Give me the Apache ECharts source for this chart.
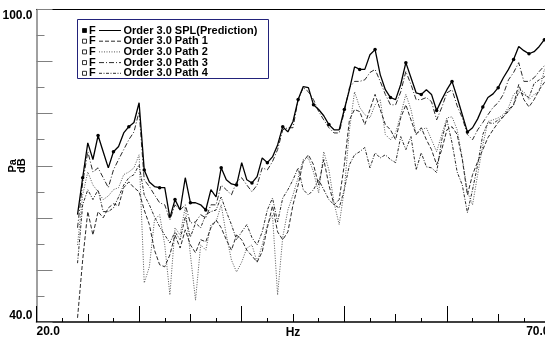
<!DOCTYPE html>
<html><head><meta charset="utf-8">
<script src="https://cdn.jsdelivr.net/npm/echarts@6/dist/echarts.min.js"></script>
<style>html,body{margin:0;padding:0;background:#fff}#c{width:545px;height:337px}</style>
</head><body><div id="c"></div>
<script>
// Frequency (Hz)
const freqHz = [24,24.5,25,25.5,26,26.5,27,27.5,28,28.5,
29,29.5,30,30.5,31,31.5,32,32.5,33,33.5,
34,34.5,35,35.5,36,36.5,37,37.5,38,38.5,
39,39.5,40,40.5,41,41.5,42,42.5,43,43.5,
44,44.5,45,45.5,46,46.5,47,47.5,48,48.5,
49,49.5,50,50.5,51,51.5,52,52.5,53,53.5,
54,54.5,55,55.5,56,56.5,57,57.5,58,58.5,
59,59.5,60,60.5,61,61.5,62,62.5,63,63.5,
64,64.5,65,65.5,66,66.5,67,67.5,68,68.5,
69,69.5,70];

// Order 3.0 SPL (Prediction), dB
const splDb = [60.6,67.7,74.4,71.2,75.8,72.7,69.6,72.7,73.7,76.3,
77.5,78.3,82.1,69.2,66.9,66.0,65.8,65.8,60.0,63.5,
61.5,67.7,62.9,62.9,62.5,61.5,65.4,64.0,69.6,67.3,
66.5,66.3,70.6,67.3,66.7,67.9,71.5,70.6,71.7,74.0,
77.5,76.5,78.5,82.7,85.2,85.0,81.7,80.8,79.6,77.9,
76.9,76.9,80.8,84.6,89.0,88.5,88.5,91.3,92.3,87.5,
84.6,83.1,82.7,85.6,89.8,86.9,84.0,83.7,84.6,83.7,
80.6,82.7,84.6,86.2,83.1,79.8,76.5,77.3,79.0,81.3,
83.1,83.8,85.0,86.9,88.5,90.4,92.9,92.1,91.5,91.9,
92.9,94.2,94.6];

// Order 3.0 Path 1, dB
const path1Db = [40.8,51.9,61.2,56.7,61.2,60.0,61.9,62.7,62.3,65.8,
66.9,65.8,65.0,61.5,58.7,53.8,51.0,50.6,52.9,56.7,
54.2,57.7,54.8,53.3,55.8,55.4,58.1,59.6,58.1,55.8,
53.8,56.7,55.8,53.8,52.7,51.5,53.5,58.1,62.3,57.3,
55.8,57.3,62.5,66.3,70.8,72.1,70.2,66.3,71.2,66.3,
62.5,63.5,70.2,78.8,80.8,80.4,77.9,80.8,83.7,80.8,
77.9,76.9,75.0,79.2,81.7,78.8,76.0,77.3,75.0,73.1,
70.2,73.1,76.9,77.5,76.0,71.2,64.4,68.3,70.8,73.1,
75.4,76.9,78.3,79.4,80.8,81.7,85.6,82.7,81.3,82.7,
84.6,86.0,86.5];

// Order 3.0 Path 2, dB
const path2Db = [54.8,64.4,68.8,66.3,65.0,63.5,64.2,65.4,65.8,68.3,
68.8,69.6,72.1,47.5,50.6,59.6,60.6,54.8,45.2,58.1,
56.7,62.1,52.9,44.2,54.8,53.8,58.7,59.2,62.5,56.7,
51.9,49.6,51.5,54.2,54.8,51.5,54.8,58.7,60.6,45.2,
56.3,61.5,64.4,67.7,71.2,71.5,68.8,64.8,72.7,69.2,
62.9,58.7,65.4,76.9,84.2,81.2,79.8,79.2,81.7,82.7,
76.0,75.0,76.3,79.8,83.7,80.8,76.0,76.9,77.3,75.0,
72.7,76.0,79.2,79.4,76.9,71.5,65.0,62.5,68.3,74.0,
78.5,78.8,79.2,79.8,81.2,83.7,84.6,84.2,82.7,83.7,
84.2,88.5,88.8];

// Order 3.0 Path 3, dB
const path3Db = [58.1,66.7,72.7,68.8,69.6,67.7,65.8,69.2,71.2,73.1,
75.0,76.5,80.4,67.3,66.0,64.4,62.9,62.5,59.6,62.5,
61.5,62.5,59.0,59.2,60.6,60.0,62.5,62.5,66.3,65.4,
64.4,66.9,67.7,66.3,65.0,66.3,69.6,69.2,70.8,73.1,
76.9,77.3,77.3,82.7,85.0,84.2,82.7,80.4,78.8,77.3,
76.3,76.3,80.4,85.0,86.2,86.2,86.5,87.9,88.5,86.2,
83.7,81.7,81.7,84.2,88.1,85.6,82.7,82.7,83.1,82.3,
78.8,81.2,84.0,84.6,81.5,79.2,76.0,75.0,76.9,78.3,
79.8,81.2,82.1,83.7,86.5,87.9,89.8,86.2,86.2,86.9,
88.1,89.2,90.0];

// Order 3.0 Path 4, dB
const path4Db = [51.3,62.5,65.4,63.5,65.4,61.2,61.2,61.9,64.0,66.3,
67.7,68.3,70.2,64.4,62.5,60.2,58.3,56.7,55.2,57.3,
55.8,60.2,56.3,59.0,58.1,60.6,61.2,61.5,64.0,61.2,
58.7,55.8,57.3,58.7,56.2,54.8,57.3,61.5,63.8,59.2,
63.8,65.4,67.3,69.6,65.4,64.4,65.4,67.3,65.4,63.5,
62.5,61.9,65.4,70.2,72.1,72.7,73.5,69.6,72.5,71.5,
72.1,71.2,70.6,75.6,73.1,75.6,69.2,72.5,69.8,69.6,
68.7,75.0,78.8,74.4,68.8,66.3,61.0,65.4,70.2,76.0,
78.3,78.1,78.8,79.4,80.4,81.7,84.2,83.7,83.1,85.8,
86.5,87.1,87.5];

const seriesNames = ['Order 3.0 SPL(Prediction)','Order 3.0 Path 1','Order 3.0 Path 2','Order 3.0 Path 3','Order 3.0 Path 4'];
const xEndLabels = ['20.0','70.0'];
const yEndLabels = ['40.0','100.0'];

const FONT = '"Liberation Sans", Arial, Helvetica, sans-serif';
const lineStyles = [
  {color:'#000', width:1.3, type:'solid'},
  {color:'#2a2a2a', width:1, type:[4,2]},
  {color:'#555', width:1, type:[1,1.5]},
  {color:'#2a2a2a', width:1, type:[5,2,1,2]},
  {color:'#2a2a2a', width:1, type:[3,1.5,1,1.5]}
];
const values = [splDb, path1Db, path2Db, path3Db, path4Db];

const series = values.map((v, i) => ({
  type: 'line', name: seriesNames[i], xAxisIndex: 0, yAxisIndex: 0,
  data: freqHz.map((f, j) => [f, v[j]]),
  lineStyle: lineStyles[i], itemStyle: {color: lineStyles[i].color},
  symbol: i === 0 ? 'circle' : 'none',
  symbolSize: i === 0 ? (val, p) => (p.dataIndex % 3 === 1 ? 3.5 : 0) : 0,
  showSymbol: i === 0, animation: false, silent: true, z: i === 0 ? 10 : 5 - i * 0.1
}));

// legend drawn as graphic
const lg = {x: 77.5, y: 19.5, w: 191, h: 59, row0: 30.5, pitch: 10.7};
const legendEls = [{type:'rect', shape:{x:lg.x, y:lg.y, width:lg.w, height:lg.h}, style:{fill:'#fff', stroke:'#22227a', lineWidth:1}}];
seriesNames.forEach((n, i) => {
  const cy = lg.row0 + i * lg.pitch;
  legendEls.push({type:'rect', shape:{x:82.5, y:cy-2, width:4, height:4}, style:{fill: i===0 ? '#000' : '#fff', stroke:'#000', lineWidth:0.8}});
  legendEls.push({type:'text', x:89, y:cy, style:{text:'F', font:'bold 11px ' + FONT, fill:'#000', verticalAlign:'middle', align:'left'}});
  legendEls.push({type:'line', shape:{x1:99, y1:cy, x2:121, y2:cy}, style:{stroke: lineStyles[i].color, lineWidth:1, lineDash: i===0 ? null : lineStyles[i].type}});
  legendEls.push({type:'text', x:123.5, y:cy, style:{text:n, font:'bold 11px ' + FONT, fill:'#000', verticalAlign:'middle', align:'left'}});
});

const labelFont = {color:'#000', fontWeight:'bold', fontSize:12, fontFamily:FONT};

const option = {
  animation: false,
  backgroundColor: '#fff',
  grid: {left: 36.5, right: -4.5, top: 9.5, bottom: 15, containLabel: false, outerBoundsMode: 'none'},
  xAxis: [
    {type:'value', min:20, max:70, interval:10, position:'bottom',
     name:'Hz', nameLocation:'middle', nameGap:5, nameMoveOverlap:false, nameTextStyle:labelFont,
     axisLine:{show:true, lineStyle:{color:'#000', width:1.5}},
     axisTick:{show:true, inside:true, length:16, lineStyle:{color:'#000'}},
     minorTick:{show:true, splitNumber:4, length:4, lineStyle:{color:'#000'}},
     axisLabel:Object.assign({margin:4, showMinLabel:true, showMaxLabel:true, hideOverlap:false,
       formatter: v => v === 20 ? xEndLabels[0] : (v === 70 ? xEndLabels[1] : ''),
       alignMinLabel:'left', alignMaxLabel:'right'}, labelFont),
     splitLine:{show:false}},
    {type:'value', min:20, max:70, interval:5, position:'bottom',
     axisLine:{show:false}, axisTick:{show:true, inside:true, length:8, lineStyle:{color:'#000'}},
     axisLabel:{show:false}, splitLine:{show:false}},
    {type:'value', min:20, max:70, position:'top',
     axisLine:{show:true, lineStyle:{color:'#000', width:1}}, axisTick:{show:false},
     axisLabel:{show:false}, splitLine:{show:false}}
  ],
  yAxis: [{type:'value', min:40, max:100, interval:10,
    name:'Pa\ndB', nameLocation:'middle', nameRotate:90, nameGap:10, nameMoveOverlap:false,
    nameTextStyle:Object.assign({lineHeight:9}, labelFont, {fontSize:11}),
    axisLine:{show:true, lineStyle:{color:'#808080', width:1.5}},
    axisTick:{show:true, inside:true, length:16, lineStyle:{color:'#808080'}},
    minorTick:{show:true, splitNumber:2, length:8, lineStyle:{color:'#808080'}},
    axisLabel:Object.assign({margin:4, showMinLabel:true, showMaxLabel:true,
      formatter: v => v === 40 ? yEndLabels[0] : (v === 100 ? yEndLabels[1] : ''),
      verticalAlignMinLabel:'bottom', verticalAlignMaxLabel:'top'}, labelFont),
    splitLine:{show:false}}],
  series: series,
  graphic: [{type:'group', z:100, children: legendEls}]
};

const chart = echarts.init(document.getElementById('c'), null, {renderer:'canvas'});
chart.setOption(option);
</script></body></html>
